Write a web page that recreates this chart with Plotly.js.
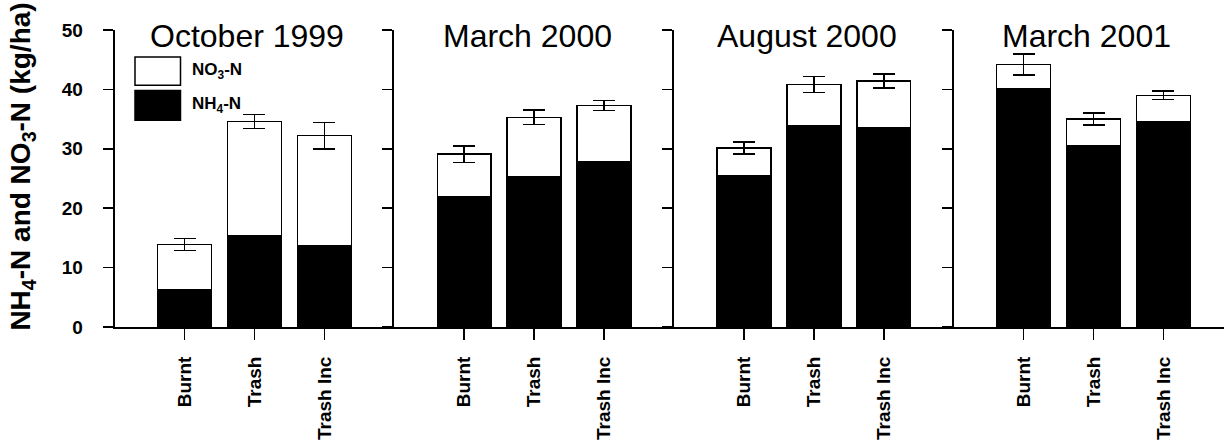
<!DOCTYPE html>
<html>
<head>
<meta charset="utf-8">
<script src="https://cdn.plot.ly/plotly-3.0.1.min.js"></script>
<style>
  html, body { margin: 0; padding: 0; background: #ffffff; }
  #chart { width: 1224px; height: 446px; }
</style>
</head>
<body>
<div id="chart"></div>
<script>
// ---- Data ----
const panelTitles = ["October 1999", "March 2000", "August 2000", "March 2001"];
const treatments = ["Burnt", "Trash", "Trash Inc"];
const seriesNames = ["NO<sub>3</sub>-N", "NH<sub>4</sub>-N"];

// NH4-N (kg/ha), black lower segment
const nh4Oct1999 = [6.2, 15.4, 13.6];
const nh4Mar2000 = [21.9, 25.3, 27.8];
const nh4Aug2000 = [25.4, 33.9, 33.6];
const nh4Mar2001 = [40.1, 30.5, 34.6];

// NO3-N (kg/ha), white upper segment
const no3Oct1999 = [7.7, 19.2, 18.6];
const no3Mar2000 = [7.2, 10.0, 9.5];
const no3Aug2000 = [4.7, 6.9, 7.8];
const no3Mar2001 = [4.1, 4.5, 4.4];

// Error on total (kg/ha)
const errOct1999 = [1.0, 1.2, 2.2];
const errMar2000 = [1.4, 1.2, 0.85];
const errAug2000 = [1.0, 1.35, 1.2];
const errMar2001 = [1.75, 1.0, 0.7];

const yTicks = [0, 10, 20, 30, 40, 50];

// ---- Build ----
const nh4All = [nh4Oct1999, nh4Mar2000, nh4Aug2000, nh4Mar2001];
const no3All = [no3Oct1999, no3Mar2000, no3Aug2000, no3Mar2001];
const errAll = [errOct1999, errMar2000, errAug2000, errMar2001];

const W = 1224;
const font = "Arial, 'Liberation Sans', sans-serif";
const panelLeft0 = 114.6, panelW = 279.7, unitPx = panelW / 4;
const traces = [];
const layout = {
  width: 1224, height: 446,
  margin: { l: 0, r: 0, t: 30, b: 119, pad: 0 },
  paper_bgcolor: "#ffffff", plot_bgcolor: "#ffffff",
  barmode: "stack",
  bargap: 0,
  showlegend: false,
  font: { family: font, color: "#000000" },
  annotations: [],
  shapes: []
};

for (let k = 0; k < 4; k++) {
  const sfx = k === 0 ? "" : String(k + 1);
  const xa = "x" + sfx, ya = "y" + sfx;
  const left = panelLeft0 + panelW * k;
  const right = Math.min(left + panelW, W);
  const rangeEnd = -1 + (right - left) / unitPx;

  traces.push({
    type: "bar", x: treatments, y: nh4All[k], xaxis: xa, yaxis: ya,
    name: seriesNames[1], width: 0.77,
    marker: { color: "#000000", line: { color: "#000000", width: 1.5 } },
    hoverinfo: "x+y+name"
  });
  traces.push({
    type: "bar", x: treatments, y: no3All[k], xaxis: xa, yaxis: ya,
    name: seriesNames[0], width: 0.77,
    marker: { color: "#ffffff", line: { color: "#000000", width: 1.5 } },
    error_y: { type: "data", array: errAll[k], visible: true, color: "#000000", thickness: 1.6, width: 11 },
    hoverinfo: "x+y+name"
  });

  layout["xaxis" + sfx] = {
    domain: [left / W, right / W],
    anchor: ya,
    type: "category",
    range: [-1, rangeEnd],
    showline: true, linecolor: "#000000", linewidth: 2,
    ticks: "outside", ticklen: 11, tickwidth: 1.5, tickcolor: "#000000",
    tickangle: -90,
    tickfont: { family: font, size: 19, color: "#000000", weight: "bold" },
    ticklabelstandoff: 9,
    showgrid: false, zeroline: false, fixedrange: true
  };
  const yax = {
    domain: [0, 1],
    anchor: xa,
    range: [0, 50],
    tickvals: yTicks,
    showline: true, linecolor: "#000000", linewidth: 2,
    ticks: "outside", ticklen: 10, tickwidth: 1.5, tickcolor: "#000000",
    showgrid: false, zeroline: false, fixedrange: true
  };
  if (k === 0) {
    yax.ticktext = yTicks.map(String);
    yax.tickfont = { family: font, size: 19, color: "#000000", weight: "bold" };
    yax.ticklabelstandoff = 16;
  } else {
    yax.showticklabels = false;
  }
  layout["yaxis" + sfx] = yax;

  layout.annotations.push({
    xref: xa, yref: ya, x: 1, y: 49.0, xshift: -7,
    text: panelTitles[k], showarrow: false,
    xanchor: "center", yanchor: "middle",
    font: { family: font, size: 32, color: "#000000" }
  });
}

// Y axis title
layout.annotations.push({
  xref: "paper", yref: "paper", x: 23 / W, y: 0.54,
  text: "<b>NH<sub>4</sub>-N and NO<sub>3</sub>-N (kg/ha)</b>",
  textangle: -90, showarrow: false, xanchor: "center", yanchor: "middle",
  font: { family: font, size: 28, color: "#000000" }
});

// Legend (custom, large boxes as in reference)
const legFill = ["#ffffff", "#000000"];
const legY = [[40.7, 45.45], [34.8, 39.8]];
for (let i = 0; i < 2; i++) {
  layout.shapes.push({
    type: "rect", xref: "paper", yref: "y",
    x0: 135 / W, x1: 180.5 / W, y0: legY[i][0], y1: legY[i][1],
    fillcolor: legFill[i], line: { color: "#000000", width: 1.5 }
  });
  layout.annotations.push({
    xref: "paper", yref: "y", x: 190 / W, y: (legY[i][0] + legY[i][1]) / 2,
    text: "<b>" + seriesNames[i] + "</b>", showarrow: false,
    xanchor: "left", yanchor: "middle",
    font: { family: font, size: 17, color: "#000000" }
  });
}

Plotly.newPlot("chart", traces, layout, { staticPlot: true, displayModeBar: false });
</script>
</body>
</html>
